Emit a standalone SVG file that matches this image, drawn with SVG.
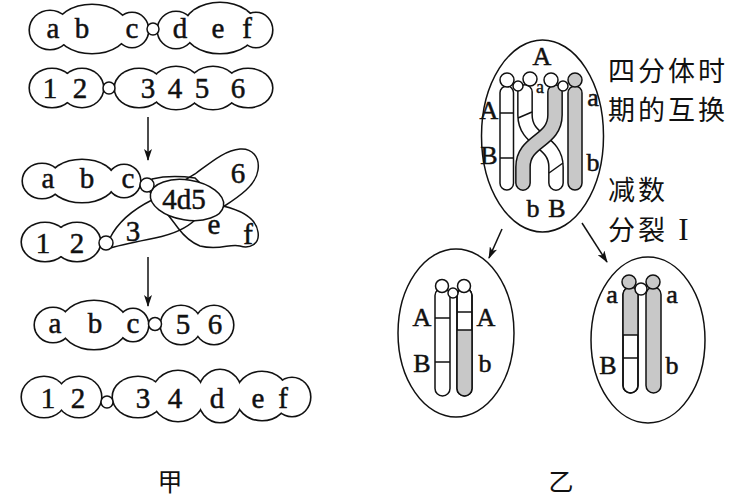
<svg xmlns="http://www.w3.org/2000/svg" width="730" height="501" viewBox="0 0 730 501">
<style>
.co{fill:#fff;stroke:#111;stroke-width:3.2}
.cf{fill:#fff;stroke:none}
.ln{fill:none;stroke:#111;stroke-width:1.5}
.w{fill:#fff;stroke:#111;stroke-width:1.5}
.g{fill:#c8c8c8;stroke:#111;stroke-width:1.5}
.gf{fill:#c8c8c8;stroke:none}
.o{fill:none;stroke:#111;stroke-width:1.5}
.t{font-family:"Liberation Serif",serif;font-size:29px;text-anchor:middle;fill:#111;stroke:#111;stroke-width:0.5}
.l{font-family:"Liberation Serif",serif;font-size:26px;text-anchor:middle;fill:#111;stroke:#111;stroke-width:0.5}
.s{font-family:"Liberation Serif",serif;font-size:18px;text-anchor:middle;fill:#111;stroke:#111;stroke-width:0.4}
.c{font-family:"Noto Sans CJK SC",sans-serif;font-size:27px;letter-spacing:3px;fill:#111}
.arr{fill:none;stroke:#111;stroke-width:1.5;marker-end:url(#ah)}
.tb{fill:none;stroke:#111;stroke-width:15.8;stroke-linecap:round}
.tw{fill:none;stroke:#fff;stroke-width:12.8;stroke-linecap:round}
.tg{fill:none;stroke:#c8c8c8;stroke-width:12.8;stroke-linecap:round}
</style>
<defs>
<marker id="ah" viewBox="0 0 12 8" refX="11" refY="4" markerWidth="12" markerHeight="8" markerUnits="userSpaceOnUse" orient="auto"><path d="M0,0 L12,4 L0,8 L3,4 Z" fill="#111"/></marker>
<g id="k1"><ellipse cx="50" cy="30" rx="20" ry="19"/><ellipse cx="92" cy="29" rx="36" ry="24"/><ellipse cx="132" cy="30" rx="16" ry="17"/></g>
<g id="k2"><ellipse cx="176" cy="30" rx="18" ry="18"/><ellipse cx="220" cy="28" rx="36" ry="25"/><ellipse cx="256" cy="30" rx="16" ry="17"/></g>
<g id="k3"><ellipse cx="52" cy="88" rx="22" ry="19"/><ellipse cx="82" cy="88" rx="21" ry="19"/></g>
<g id="k4"><ellipse cx="139" cy="88" rx="24" ry="19"/><ellipse cx="176" cy="88" rx="25" ry="21"/><ellipse cx="213" cy="88" rx="25" ry="21"/><ellipse cx="248" cy="88" rx="24" ry="19"/></g>
<g id="k5"><ellipse cx="42" cy="181" rx="19" ry="17"/><ellipse cx="82" cy="181" rx="33" ry="21"/><ellipse cx="124" cy="181" rx="16" ry="16"/></g>
<g id="k6"><ellipse cx="45" cy="242" rx="23" ry="19"/><ellipse cx="77" cy="242" rx="23" ry="19"/></g>
<g id="k7"><ellipse cx="53" cy="325" rx="18" ry="17"/><ellipse cx="94" cy="325" rx="33" ry="24"/><ellipse cx="133" cy="325" rx="15" ry="16"/></g>
<g id="k8"><ellipse cx="181" cy="325" rx="20" ry="19"/><ellipse cx="214" cy="325" rx="19" ry="19"/></g>
<g id="k9"><ellipse cx="44" cy="397" rx="22" ry="20"/><ellipse cx="79" cy="397" rx="22" ry="20"/></g>
<g id="k10"><ellipse cx="138" cy="397" rx="25" ry="20"/><ellipse cx="178" cy="396" rx="26" ry="25"/><ellipse cx="220" cy="396" rx="22" ry="26"/><ellipse cx="262" cy="396" rx="26" ry="24"/><ellipse cx="292" cy="397" rx="18" ry="19"/></g>
</defs>

<g id="row1">
<use href="#k1" class="co"/><use href="#k2" class="co"/><use href="#k1" class="cf"/><use href="#k2" class="cf"/>
<circle class="w" cx="153" cy="29" r="6"/>
<text class="t" x="53" y="38">a</text><text class="t" x="82" y="38">b</text><text class="t" x="132" y="38">c</text>
<text class="t" x="180" y="38">d</text><text class="t" x="218" y="38">e</text><text class="t" x="247" y="38">f</text>
</g>

<g id="row2">
<use href="#k3" class="co"/><use href="#k4" class="co"/><use href="#k3" class="cf"/><use href="#k4" class="cf"/>
<circle class="w" cx="109" cy="88" r="6"/>
<text class="t" x="50" y="98">1</text><text class="t" x="80" y="98">2</text>
<text class="t" x="148" y="98">3</text><text class="t" x="175" y="98">4</text><text class="t" x="202" y="98">5</text><text class="t" x="238" y="98">6</text>
</g>

<g id="row3">
<use href="#k5" class="co"/><use href="#k6" class="co"/><use href="#k5" class="cf"/><use href="#k6" class="cf"/>
<path class="o" d="M152,179 C165,176 180,176 195,178 L223,206 C240,210 256,218 258,232 C260,244 250,249 240,246 C230,243 220,251 200,246 C190,242 184,236 178,228 C170,217 160,205 150,192 Z"/>
<path class="o" d="M110,238 C118,222 132,210 152,200 L195,174 C210,163 225,150 240,149 C252,148 260,157 258,170 C256,185 240,196 223,207 L196,219 C185,230 170,235 155,238 C140,241 125,244 110,248 Z"/>
<ellipse class="w" cx="187" cy="200" rx="37" ry="20" transform="rotate(9 187 200)"/>
<circle class="w" cx="147" cy="185" r="7"/>
<circle class="w" cx="106" cy="243" r="7"/>
<text class="t" x="48" y="188">a</text><text class="t" x="87" y="188">b</text><text class="t" x="128" y="188">c</text>
<text class="t" x="43" y="253">1</text><text class="t" x="77" y="253">2</text>
<text class="t" x="133" y="241">3</text>
<text class="t" x="184" y="209">4d5</text>
<text class="t" x="238" y="183">6</text>
<text class="t" x="214" y="234">e</text><text class="t" x="248" y="244">f</text>
</g>

<g id="row4">
<use href="#k7" class="co"/><use href="#k8" class="co"/><use href="#k7" class="cf"/><use href="#k8" class="cf"/>
<circle class="w" cx="155" cy="324" r="6.5"/>
<text class="t" x="55" y="333">a</text><text class="t" x="95" y="333">b</text><text class="t" x="133" y="333">c</text>
<text class="t" x="183" y="334">5</text><text class="t" x="215" y="334">6</text>
</g>

<g id="row5">
<use href="#k9" class="co"/><use href="#k10" class="co"/><use href="#k9" class="cf"/><use href="#k10" class="cf"/>
<circle class="w" cx="107" cy="402" r="6"/>
<text class="t" x="48" y="408">1</text><text class="t" x="78" y="408">2</text>
<text class="t" x="143" y="408">3</text><text class="t" x="175" y="408">4</text><text class="t" x="217" y="408">d</text><text class="t" x="258" y="408">e</text><text class="t" x="283" y="408">f</text>
</g>

<g id="tetrad">
<ellipse class="w" cx="542.5" cy="136" rx="61" ry="96"/>
<rect class="w" x="500" y="86" width="13.5" height="104" rx="6.75"/>
<line class="ln" x1="500" y1="113" x2="513.5" y2="113"/>
<line class="ln" x1="500" y1="158" x2="513.5" y2="158"/>
<rect class="g" x="568" y="86" width="14" height="104" rx="7"/>
<path class="tb" d="M525,92 L525,115 C525,142 556,140 556,167 L556,183"/>
<path class="tw" d="M525,92 L525,115 C525,142 556,140 556,167 L556,183"/>
<line class="ln" x1="518" y1="118" x2="532" y2="112"/>
<line class="ln" x1="549" y1="173" x2="563" y2="163"/>
<path class="tb" d="M555,92 L555,115 C555,142 523,140 523,167 L523,183"/>
<path class="tg" d="M555,92 L555,115 C555,142 523,140 523,167 L523,183"/>
<circle class="w" cx="518" cy="86" r="5"/>
<circle class="w" cx="563" cy="86" r="5"/>
<circle class="w" cx="507" cy="80" r="7"/>
<circle class="w" cx="530" cy="79" r="7"/>
<circle class="w" cx="551" cy="80" r="7"/>
<circle class="g" cx="575" cy="80" r="7"/>
<text class="s" x="540" y="93">a</text>
<text class="l" x="542" y="65">A</text>
<text class="l" x="489" y="119">A</text>
<text class="l" x="489" y="164">B</text>
<text class="l" x="593" y="106">a</text>
<text class="l" x="593" y="171">b</text>
<text class="l" x="533" y="217">b</text>
<text class="l" x="557" y="217">B</text>
</g>

<g id="cell-left">
<ellipse class="w" cx="456" cy="333" rx="58" ry="84"/>
<rect class="w" x="435" y="288" width="15" height="108" rx="7.5"/>
<line class="ln" x1="435" y1="318" x2="450" y2="318"/>
<line class="ln" x1="435" y1="362" x2="450" y2="362"/>
<rect class="w" x="457" y="288" width="15" height="108" rx="7.5"/>
<path class="gf" d="M457,330 H472 V388.5 A7.5,7.5 0 0 1 457,388.5 Z"/>
<rect class="o" x="457" y="288" width="15" height="108" rx="7.5"/>
<line class="ln" x1="457" y1="312" x2="472" y2="312"/>
<line class="ln" x1="457" y1="330" x2="472" y2="330"/>
<circle class="w" cx="453" cy="293" r="5"/>
<circle class="w" cx="442" cy="286" r="6.5"/>
<circle class="w" cx="464" cy="286" r="6.5"/>
<text class="l" x="422" y="326">A</text>
<text class="l" x="422" y="372">B</text>
<text class="l" x="486" y="326">A</text>
<text class="l" x="485" y="372">b</text>
</g>

<g id="cell-right">
<ellipse class="w" cx="648" cy="340" rx="57" ry="83"/>
<rect class="w" x="623" y="287" width="15" height="106" rx="7.5"/>
<path class="gf" d="M623,335 V294.5 A7.5,7.5 0 0 1 638,294.5 V335 Z"/>
<rect class="o" x="623" y="287" width="15" height="106" rx="7.5"/>
<line class="ln" x1="623" y1="335" x2="638" y2="335"/>
<line class="ln" x1="623" y1="358" x2="638" y2="358"/>
<rect class="g" x="646" y="287" width="15" height="106" rx="7.5"/>
<circle class="w" cx="641" cy="289" r="6"/>
<circle class="g" cx="629" cy="282" r="7"/>
<circle class="g" cx="653" cy="282" r="7"/>
<text class="l" x="612" y="303">a</text>
<text class="l" x="672" y="303">a</text>
<text class="l" x="608" y="374">B</text>
<text class="l" x="672" y="374">b</text>
</g>

<g id="connectors">
<line class="arr" x1="148" y1="117" x2="148" y2="160"/>
<line class="arr" x1="148" y1="257" x2="148" y2="306"/>
<line class="arr" x1="502" y1="229" x2="489" y2="258"/>
<line class="arr" x1="582" y1="223" x2="607" y2="262"/>
</g>

<g id="captions">
<text class="c" x="608" y="81">四分体时</text>
<text class="c" x="608" y="120">期的互换</text>
<text class="c" x="608" y="200">减数</text>
<text class="c" x="608" y="240">分裂<tspan x="685" font-family="Liberation Serif, serif" font-size="31px" text-anchor="middle">I</tspan></text>
<text class="c" x="170" y="491" text-anchor="middle" style="letter-spacing:0;font-size:25px">甲</text>
<text class="c" x="561" y="491" text-anchor="middle" style="letter-spacing:0;font-size:25px">乙</text>
</g>
</svg>
